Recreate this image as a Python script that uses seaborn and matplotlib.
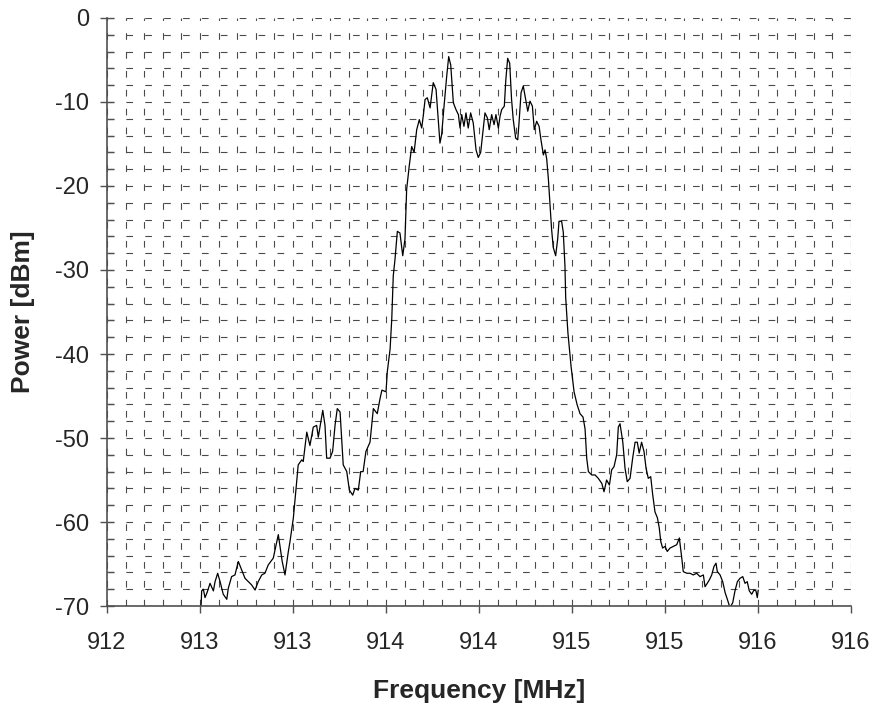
import numpy as np
import pandas as pd
import seaborn as sns
import matplotlib
matplotlib.use('Agg')
import matplotlib.pyplot as plt
from matplotlib.ticker import MultipleLocator, FixedLocator, FixedFormatter

# spectrum (MHz, dBm)
freq = [912.505, 912.509, 912.518, 912.527, 912.538, 912.554, 912.572, 912.581, 912.595, 912.608,
        912.625, 912.644, 912.652, 912.670, 912.688, 912.706, 912.724, 912.742, 912.760, 912.778,
        912.796, 912.813, 912.832, 912.849, 912.867, 912.894, 912.921, 912.942, 912.957, 912.975,
        912.984, 913.002, 913.020, 913.028, 913.047, 913.055, 913.074, 913.091, 913.109, 913.127,
        913.136, 913.160, 913.172, 913.181, 913.199, 913.213, 913.226, 913.238, 913.253, 913.270,
        913.289, 913.303, 913.321, 913.333, 913.351, 913.364, 913.377, 913.392, 913.414, 913.423,
        913.432, 913.453, 913.468, 913.478, 913.500, 913.507, 913.522, 913.531, 913.539, 913.548,
        913.561, 913.575, 913.590, 913.602, 913.611, 913.625, 913.638, 913.651, 913.665, 913.679,
        913.692, 913.700, 913.710, 913.722, 913.737, 913.754, 913.769, 913.781, 913.790, 913.799,
        913.812, 913.826, 913.837, 913.848, 913.862, 913.876, 913.889, 913.898, 913.907, 913.919,
        913.930, 913.942, 913.955, 913.969, 913.984, 913.996, 914.009, 914.020, 914.032, 914.045,
        914.055, 914.068, 914.081, 914.091, 914.104, 914.113, 914.122, 914.136, 914.144, 914.154,
        914.165, 914.175, 914.184, 914.197, 914.208, 914.215, 914.226, 914.238, 914.251, 914.262,
        914.274, 914.287, 914.297, 914.310, 914.323, 914.333, 914.346, 914.355, 914.364, 914.373,
        914.382, 914.390, 914.399, 914.412, 914.423, 914.430, 914.444, 914.453, 914.462, 914.466,
        914.478, 914.495, 914.511, 914.527, 914.543, 914.559, 914.570, 914.579, 914.588, 914.606,
        914.624, 914.641, 914.660, 914.672, 914.686, 914.701, 914.713, 914.726, 914.740, 914.749,
        914.758, 914.773, 914.785, 914.797, 914.812, 914.826, 914.839, 914.851, 914.861, 914.874,
        914.887, 914.898, 914.910, 914.923, 914.934, 914.946, 914.959, 914.969, 914.977, 914.987,
        915.000, 915.012, 915.027, 915.045, 915.063, 915.077, 915.090, 915.098, 915.117, 915.134,
        915.152, 915.170, 915.188, 915.206, 915.215, 915.227, 915.238, 915.251, 915.263, 915.274,
        915.281, 915.296, 915.310, 915.323, 915.335, 915.349, 915.364, 915.376, 915.389, 915.403,
        915.418, 915.430, 915.442, 915.453, 915.466, 915.478, 915.489, 915.496, 915.501]

power = [-70.5, -68.2, -68.0, -69.0, -68.4, -67.3, -68.2, -67.1, -66.1, -67.1,
         -68.6, -69.2, -67.9, -66.5, -66.3, -64.7, -65.7, -66.7, -67.1, -67.5,
         -68.1, -67.1, -66.3, -66.1, -65.1, -64.3, -61.5, -64.7, -66.3, -63.5,
         -62.3, -59.5, -55.2, -53.2, -52.6, -52.8, -49.3, -50.9, -48.7, -48.5,
         -49.9, -46.7, -48.5, -52.4, -52.4, -51.6, -48.5, -46.5, -46.9, -53.2,
         -54.0, -56.2, -56.8, -56.0, -56.2, -54.0, -54.0, -51.6, -50.5, -48.5,
         -46.5, -47.1, -45.3, -44.3, -44.5, -42.1, -39.4, -35.8, -30.7, -28.8,
         -25.4, -25.6, -28.3, -26.3, -20.4, -17.6, -15.3, -16.0, -13.3, -12.1,
         -13.1, -11.7, -9.7, -9.5, -10.7, -7.7, -8.5, -12.1, -14.9, -13.9,
         -10.5, -7.0, -4.6, -5.6, -10.1, -10.9, -11.5, -13.1, -11.5, -12.9,
         -11.3, -13.1, -11.3, -12.5, -15.7, -16.6, -16.0, -13.7, -11.3, -11.9,
         -13.3, -11.5, -12.7, -11.5, -13.1, -11.7, -10.9, -10.5, -7.4, -4.8,
         -5.4, -9.7, -12.1, -14.3, -14.5, -12.5, -8.9, -8.1, -9.7, -11.1,
         -9.9, -10.5, -13.3, -12.3, -12.9, -14.5, -16.3, -15.7, -16.8, -19.2,
         -22.4, -25.1, -27.3, -28.3, -26.3, -24.2, -24.2, -25.5, -29.5, -33.3,
         -37.5, -41.5, -44.5, -46.0, -47.1, -47.5, -48.9, -52.4, -54.0, -54.4,
         -54.4, -54.8, -55.4, -56.4, -55.0, -55.6, -53.8, -53.4, -52.0, -48.7,
         -48.3, -50.5, -53.6, -55.2, -54.8, -52.4, -50.5, -50.5, -51.8, -50.5,
         -51.6, -53.6, -54.8, -54.6, -56.8, -58.8, -59.5, -60.7, -62.3, -63.1,
         -62.9, -63.5, -63.1, -62.9, -62.7, -61.9, -64.3, -65.9, -66.1, -66.1,
         -66.3, -66.1, -66.5, -66.3, -67.7, -67.3, -66.9, -66.3, -65.3, -64.9,
         -65.9, -66.3, -67.1, -68.4, -69.2, -70.2, -69.6, -68.2, -67.1, -66.7,
         -66.5, -67.3, -67.1, -68.2, -68.6, -68.1, -68.2, -69.0, -68.1]

x_ticks = [912.0, 912.5, 913.0, 913.5, 914.0, 914.5, 915.0, 915.5, 916.0]
x_tick_labels = ['912', '913', '913', '914', '914', '915', '915', '916', '916']
y_ticks = [0, -10, -20, -30, -40, -50, -60, -70]

df = pd.DataFrame({'Frequency [MHz]': freq, 'Power [dBm]': power})

sns.set_style('white')
plt.rcParams['font.family'] = ['Liberation Sans', 'DejaVu Sans']
plt.rcParams['axes.unicode_minus'] = False

fig = plt.figure(figsize=(8.82, 7.05), dpi=100)
ax = fig.add_axes([0.1213, 0.1404, 0.8436, 0.8341])

# excel style dashed grid: every 0.1 MHz and every 2 dBm
ax.xaxis.set_minor_locator(MultipleLocator(0.1))
ax.yaxis.set_minor_locator(MultipleLocator(2))
for which in ('major', 'minor'):
    ax.grid(True, which=which, color='#4a4a4a', linewidth=0.8,
            linestyle=(0, (6, 11)))
ax.set_axisbelow(True)

sns.lineplot(data=df, x='Frequency [MHz]', y='Power [dBm]', ax=ax,
             color='black', linewidth=0.9, estimator=None, sort=False)

ax.set_xlim(912, 916)
ax.set_ylim(-70, 0)
ax.xaxis.set_major_locator(FixedLocator(x_ticks))
ax.xaxis.set_major_formatter(FixedFormatter(x_tick_labels))
ax.yaxis.set_major_locator(FixedLocator(y_ticks))

for s in ('top', 'right'):
    ax.spines[s].set_visible(False)
for s in ('left', 'bottom'):
    ax.spines[s].set_color('#505050')
    ax.spines[s].set_linewidth(1.2)

ax.tick_params(axis='x', which='major', direction='out', length=5, width=1,
               color='#505050', labelsize=17, pad=14, bottom=True)
ax.tick_params(axis='x', which='minor', length=0)
ax.tick_params(axis='y', which='major', direction='inout', length=10, width=1,
               color='#505050', labelsize=17, pad=8, left=True)
ax.tick_params(axis='y', which='minor', direction='in', length=5, width=1,
               color='#505050', left=True)

ax.set_xlabel('Frequency [MHz]', fontsize=19, fontweight='bold', labelpad=18)
ax.set_ylabel('Power [dBm]', fontsize=19, fontweight='bold', labelpad=14)

fig.savefig('out.png', dpi=100)
